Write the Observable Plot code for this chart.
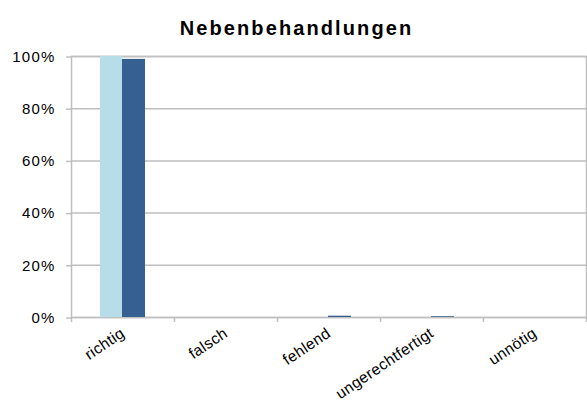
<!DOCTYPE html>
<html>
<head>
<meta charset="utf-8">
<script src="https://cdn.jsdelivr.net/npm/d3@7"></script>
<script src="https://cdn.jsdelivr.net/npm/@observablehq/plot@0.6"></script>
<style>
  body { margin: 0; background: #fff; font-family: "Liberation Sans", Arial, sans-serif; }
  #title { box-sizing: border-box; width: 587px; height: 45px; padding-top: 17px; padding-left: 6px;
           text-align: center; font-size: 20px; font-weight: bold; letter-spacing: 2.1px; line-height: 23px; color: #000; }
  #chart svg text { letter-spacing: 1.2px; }
  #chart svg g[aria-label="x-axis tick label"] text { letter-spacing: 0.4px; }
</style>
</head>
<body>
<div id="title">Nebenbehandlungen</div>
<div id="chart"></div>
<script>
const categories = ["richtig", "falsch", "fehlend", "ungerechtfertigt", "unnötig"];
const seriesA = [1.000, 0, 0, 0, 0];      // light blue
const seriesB = [0.989, 0, 0.005, 0.003, 0]; // dark blue
const yTicks = [0, 0.2, 0.4, 0.6, 0.8, 1.0];

const dataA = categories.map((c, i) => ({category: c, value: seriesA[i]}));
const dataB = categories.map((c, i) => ({category: c, value: seriesB[i]}));

const grey = "#bfbfbf";
const half = 51.5;

const chart = Plot.plot({
  width: 587,
  height: 356,
  marginLeft: 71,
  marginRight: 1,
  marginTop: 11,
  marginBottom: 84,
  style: {fontFamily: "Liberation Sans, Arial, sans-serif", fontSize: "15px", color: "#000", background: "#fff"},
  x: {type: "band", domain: categories, padding: 0, label: null},
  y: {domain: [0, 1], label: null},
  marks: [
    Plot.ruleY(yTicks, {stroke: grey, strokeWidth: 1.5}),
    Plot.frame({stroke: grey, strokeWidth: 1.5}),
    Plot.barY(dataA, {x: "category", y: "value", fill: "#b7dde8", insetLeft: 29, insetRight: 52}),
    Plot.barY(dataB, {x: "category", y: "value", fill: "#366092", insetLeft: 51, insetRight: 29}),
    Plot.axisY({ticks: yTicks, tickFormat: d3.format(".0%"), tickSize: 5, tickPadding: 11, stroke: grey, strokeWidth: 1.5, fill: "#000", fontSize: 15, dy: 0.5, label: null}),
    Plot.axisX({ticks: categories, tickSize: 5, dx: -half, stroke: grey, strokeWidth: 1.5, tickFormat: () => "", label: null}),
    Plot.axisX({ticks: categories.slice(-1), tickSize: 5, dx: half, stroke: grey, strokeWidth: 1.5, tickFormat: () => "", label: null}),
    Plot.axisX({ticks: categories, tickSize: 0, tickPadding: 14, tickRotate: -34, dx: 0, fill: "#000", fontSize: 15.5, label: null})
  ]
});
document.getElementById("chart").appendChild(chart);
</script>
</body>
</html>
